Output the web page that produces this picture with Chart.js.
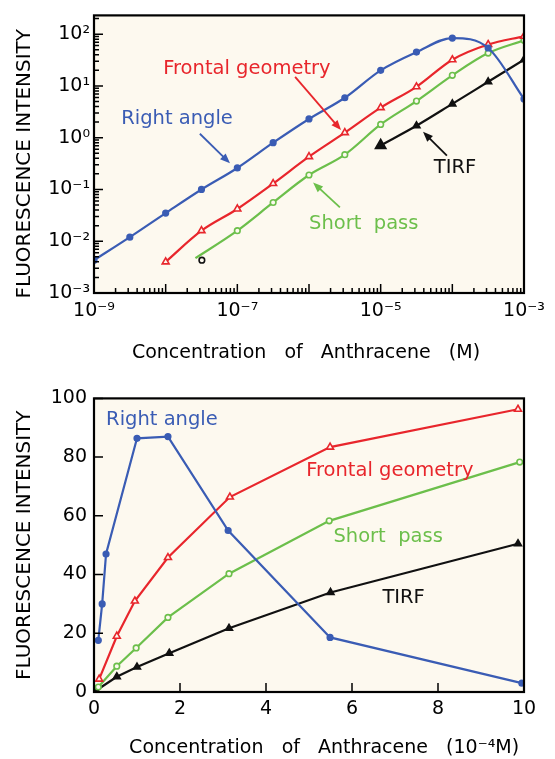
<!DOCTYPE html>
<html>
<head>
<meta charset="utf-8">
<script src="https://cdn.jsdelivr.net/npm/chart.js@4.4.0/dist/chart.umd.min.js"></script>
<style>
  html, body { margin: 0; padding: 0; background: #fff; overflow: hidden; }
  .panel { position: absolute; left: 0; width: 555px; }
  #upper { top: 0; height: 380px; }
  #lower { top: 380px; height: 379px; }
</style>
</head>
<body>
<div class="panel" id="upper"><canvas id="logChart"></canvas></div>
<div class="panel" id="lower"><canvas id="linChart"></canvas></div>
<script>
// Upper panel: log-log, concentration in M
let raConc = [1e-9, 3.16e-9, 1e-8, 3.16e-8, 1e-7, 3.16e-7, 1e-6, 3.16e-6, 1e-5, 3.16e-5, 1e-4, 3.16e-4, 1e-3];
let raLog = [0.0043, 0.012, 0.035, 0.1, 0.26, 0.8, 2.3, 5.9, 20, 45, 84, 54, 5.6];
let fgConc = [1e-8, 3.16e-8, 1e-7, 3.16e-7, 1e-6, 3.16e-6, 1e-5, 3.16e-5, 1e-4, 3.16e-4, 1e-3];
let fgLog = [0.004, 0.016, 0.042, 0.13, 0.43, 1.25, 3.8, 9.6, 32, 63, 91];
let spConc = [2.6e-8, 1e-7, 3.16e-7, 1e-6, 3.16e-6, 1e-5, 3.16e-5, 1e-4, 3.16e-4, 1e-3];
let spLog = [0.0047, 0.016, 0.056, 0.19, 0.47, 1.8, 5.1, 16, 43, 76];
let tirfConc = [1e-5, 3.16e-5, 1e-4, 3.16e-4, 1e-3];
let tirfLog = [0.71, 1.7, 4.5, 12, 32];
let strayConc = [3.2e-8];
let strayLog = [0.0043];

let logXTicks = [1e-9, 1e-7, 1e-5, 1e-3];
let logXLabels = ["10⁻⁹", "10⁻⁷", "10⁻⁵", "10⁻³"];
let logYTicks = [1e-3, 1e-2, 1e-1, 1, 10, 100];
let logYLabels = ["10⁻³", "10⁻²", "10⁻¹", "10⁰", "10¹", "10²"];

// Lower panel: linear, concentration in 10^-4 M
let raConc2 = [0.1, 0.19, 0.28, 1.0, 1.72, 3.12, 5.49, 9.95];
let raLin = [17.6, 30, 47, 86.4, 87, 55, 18.6, 3];
let fgConc2 = [0.12, 0.53, 0.95, 1.72, 3.16, 5.49, 9.86];
let fgLin = [4.4, 19, 31, 45.8, 66.4, 83.4, 96.3];
let spConc2 = [0.1, 0.53, 0.98, 1.72, 3.14, 5.47, 9.9];
let spLin = [1.7, 8.8, 15, 25.4, 40.3, 58.3, 78.3];
let tirfConc2 = [0.05, 0.53, 1.0, 1.75, 3.14, 5.5, 9.86];
let tirfLin = [0.5, 5.2, 8.5, 13.2, 21.7, 33.9, 50.5];

let linXTicks = [0, 2, 4, 6, 8, 10];
let linYTicks = [0, 20, 40, 60, 80, 100];

const BLUE = "#3a5cb4";
const RED = "#e8262c";
const GREEN = "#6cbf4b";
const BLACK = "#111111";
const PAPER = "#fdf9ef";
const FONT = "'DejaVu Sans', sans-serif";

function pts(xs, ys) {
    return xs.map((x, i) => ({ x: x, y: ys[i] }));
}

// cream plot area, black frame and inward tick marks
const framePlugin = {
    id: "frame",
    beforeDraw(chart) {
        const a = chart.chartArea;
        const ctx = chart.ctx;
        ctx.save();
        ctx.fillStyle = PAPER;
        ctx.fillRect(a.left, a.top, a.right - a.left, a.bottom - a.top);
        ctx.restore();
    },
    afterDatasetsDraw(chart) {
        const a = chart.chartArea;
        const ctx = chart.ctx;
        const xs = chart.scales.x, ys = chart.scales.y;
        ctx.save();
        ctx.strokeStyle = "#000";
        ctx.lineWidth = 1.5;
        ctx.beginPath();
        if (xs.type === "logarithmic") {
            for (let d = -9; d <= -3; d++) {
                for (let m = 1; m <= 9; m++) {
                    const v = m * Math.pow(10, d);
                    if (v < xs.min * 0.999 || v > xs.max * 1.001) continue;
                    const p = xs.getPixelForValue(v);
                    const len = m === 1 ? 9 : 5;
                    ctx.moveTo(p, a.bottom);
                    ctx.lineTo(p, a.bottom - len);
                }
            }
            for (let d = -3; d <= 2; d++) {
                for (let m = 1; m <= 9; m++) {
                    const v = m * Math.pow(10, d);
                    if (v < ys.min * 0.999 || v > ys.max * 1.001) continue;
                    const p = ys.getPixelForValue(v);
                    const len = m === 1 ? 9 : 5;
                    ctx.moveTo(a.left, p);
                    ctx.lineTo(a.left + len, p);
                }
            }
        } else {
            linXTicks.forEach(v => {
                const p = xs.getPixelForValue(v);
                ctx.moveTo(p, a.bottom);
                ctx.lineTo(p, a.bottom - 9);
            });
            linYTicks.forEach(v => {
                const p = ys.getPixelForValue(v);
                ctx.moveTo(a.left, p);
                ctx.lineTo(a.left + 9, p);
            });
        }
        ctx.stroke();
        ctx.lineWidth = 2.2;
        ctx.strokeRect(a.left, a.top, a.right - a.left, a.bottom - a.top);
        ctx.restore();
    }
};

// curve labels and pointer arrows, given in data units
const notesPlugin = {
    id: "notes",
    afterDatasetsDraw(chart, args, opts) {
        const ctx = chart.ctx;
        const xs = chart.scales.x, ys = chart.scales.y;
        ctx.save();
        ctx.font = "19.5px " + FONT;
        ctx.textAlign = "center";
        ctx.textBaseline = "middle";
        (opts.texts || []).forEach(t => {
            ctx.fillStyle = t.color;
            ctx.fillText(t.text, xs.getPixelForValue(t.x), ys.getPixelForValue(t.y));
        });
        (opts.arrows || []).forEach(ar => {
            const x1 = xs.getPixelForValue(ar.from[0]), y1 = ys.getPixelForValue(ar.from[1]);
            const x2 = xs.getPixelForValue(ar.to[0]), y2 = ys.getPixelForValue(ar.to[1]);
            const ang = Math.atan2(y2 - y1, x2 - x1);
            ctx.strokeStyle = ar.color;
            ctx.fillStyle = ar.color;
            ctx.lineWidth = 1.8;
            ctx.beginPath();
            ctx.moveTo(x1, y1);
            ctx.lineTo(x2 - 6 * Math.cos(ang), y2 - 6 * Math.sin(ang));
            ctx.stroke();
            ctx.beginPath();
            ctx.moveTo(x2, y2);
            ctx.lineTo(x2 - 10 * Math.cos(ang) + 4 * Math.sin(ang), y2 - 10 * Math.sin(ang) - 4 * Math.cos(ang));
            ctx.lineTo(x2 - 10 * Math.cos(ang) - 4 * Math.sin(ang), y2 - 10 * Math.sin(ang) + 4 * Math.cos(ang));
            ctx.closePath();
            ctx.fill();
        });
        ctx.restore();
    }
};

const tickFont = { family: FONT, size: 19 };
const xTitleFont = { family: FONT, size: 19 };
const yTitleFont = { family: FONT, size: 20 };

function series(data, color, style, filled, radius, smooth) {
    return {
        data: data,
        borderColor: color,
        borderWidth: 2.2,
        pointStyle: style,
        pointRadius: radius,
        pointBorderWidth: 1.6,
        pointBorderColor: color,
        pointBackgroundColor: filled ? color : PAPER,
        cubicInterpolationMode: smooth ? "monotone" : "default",
        tension: 0,
        showLine: true
    };
}

// Upper panel
let upperSets = [
    series(pts(raConc, raLog), BLUE, "circle", true, 2.8, true),
    series(pts(fgConc, fgLog), RED, "triangle", false, 4, true),
    series(pts(spConc, spLog), GREEN, "circle", false, 2.8, true),
    series(pts(tirfConc, tirfLog), BLACK, "triangle", true, 4, true),
    series(pts(strayConc, strayLog), BLACK, "circle", false, 2.8, false)
];
upperSets[2].pointRadius = spConc.map((c, i) => i === 0 ? 0 : 2.8);
upperSets[3].rotation = 240;
upperSets[3].pointRadius = tirfConc.map((c, i) => i === 0 ? 6 : 4);
upperSets[4].showLine = false;

new Chart(document.getElementById("logChart"), {
    type: "scatter",
    data: { datasets: upperSets },
    plugins: [framePlugin, notesPlugin],
    options: {
        responsive: true,
        maintainAspectRatio: false,
        animation: false,
        layout: { padding: { left: 0, top: 14, right: 31, bottom: 0 } },
        plugins: {
            legend: { display: false },
            tooltip: { enabled: false },
            notes: {
                texts: [
                    { text: "Right angle", x: 1.44e-8, y: 2.3, color: BLUE },
                    { text: "Frontal geometry", x: 1.36e-7, y: 21, color: RED },
                    { text: "TIRF", x: 1.09e-4, y: 0.265, color: BLACK },
                    { text: "Short  pass", x: 5.8e-6, y: 0.022, color: GREEN }
                ],
                arrows: [
                    { from: [3.0e-8, 1.19], to: [7.9e-8, 0.32], color: BLUE },
                    { from: [6.4e-7, 14.9], to: [2.8e-6, 1.4], color: RED },
                    { from: [8.4e-5, 0.45], to: [3.9e-5, 1.3], color: BLACK },
                    { from: [2.7e-6, 0.045], to: [1.14e-6, 0.136], color: GREEN }
                ]
            }
        },
        scales: {
            x: {
                type: "logarithmic",
                min: 1e-9,
                max: 1e-3,
                afterBuildTicks: ax => { ax.ticks = logXTicks.map(v => ({ value: v })); },
                afterFit: ax => { ax.height = 87; },
                grid: { display: false, drawTicks: false },
                border: { display: false },
                ticks: {
                    callback: (v, i) => logXLabels[i],
                    font: tickFont, color: "#000", padding: 7,
                    autoSkip: false, maxRotation: 0
                },
                title: {
                    display: true, text: "Concentration   of   Anthracene   (M) ",
                    font: xTitleFont, color: "#000", padding: { top: 0, bottom: 16 }
                }
            },
            y: {
                type: "logarithmic",
                min: 1e-3,
                max: 230,
                afterBuildTicks: ax => { ax.ticks = logYTicks.map(v => ({ value: v })); },
                afterFit: ax => { ax.width = 94; },
                grid: { display: false, drawTicks: false },
                border: { display: false },
                ticks: {
                    callback: (v, i) => logYLabels[i],
                    font: tickFont, color: "#000", padding: 4, autoSkip: false
                },
                title: {
                    display: true, text: "FLUORESCENCE INTENSITY   ",
                    font: yTitleFont, color: "#000", padding: { top: 13, bottom: 0 }
                }
            }
        }
    }
});

// Lower panel
let lowerSets = [
    series(pts(raConc2, raLin), BLUE, "circle", true, 2.8, false),
    series(pts(fgConc2, fgLin), RED, "triangle", false, 4, false),
    series(pts(spConc2, spLin), GREEN, "circle", false, 2.8, false),
    series(pts(tirfConc2, tirfLin), BLACK, "triangle", true, 4, false)
];

new Chart(document.getElementById("linChart"), {
    type: "scatter",
    data: { datasets: lowerSets },
    plugins: [framePlugin, notesPlugin],
    options: {
        responsive: true,
        maintainAspectRatio: false,
        animation: false,
        layout: { padding: { left: 0, top: 17, right: 31, bottom: 0 } },
        plugins: {
            legend: { display: false },
            tooltip: { enabled: false },
            notes: {
                texts: [
                    { text: "Right angle", x: 1.58, y: 92.5, color: BLUE },
                    { text: "Frontal geometry", x: 6.88, y: 75.3, color: RED },
                    { text: "Short  pass", x: 6.84, y: 52.9, color: GREEN },
                    { text: "TIRF", x: 7.2, y: 32.2, color: BLACK }
                ]
            }
        },
        scales: {
            x: {
                type: "linear",
                min: 0,
                max: 10,
                afterBuildTicks: ax => { ax.ticks = linXTicks.map(v => ({ value: v })); },
                afterFit: ax => { ax.height = 67; },
                grid: { display: false, drawTicks: false },
                border: { display: false },
                ticks: { font: tickFont, color: "#000", padding: 6, autoSkip: false, maxRotation: 0 },
                title: {
                    display: true, text: "     Concentration   of   Anthracene   (10⁻⁴M)",
                    font: xTitleFont, color: "#000", padding: { top: 0, bottom: 0 }
                }
            },
            y: {
                type: "linear",
                min: 0,
                max: 100,
                afterBuildTicks: ax => { ax.ticks = linYTicks.map(v => ({ value: v })); },
                afterFit: ax => { ax.width = 94; },
                grid: { display: false, drawTicks: false },
                border: { display: false },
                ticks: { font: tickFont, color: "#000", padding: 7, autoSkip: false },
                title: {
                    display: true, text: "FLUORESCENCE INTENSITY",
                    font: yTitleFont, color: "#000", padding: { top: 13, bottom: 0 }
                }
            }
        }
    }
});
</script>
</body>
</html>
